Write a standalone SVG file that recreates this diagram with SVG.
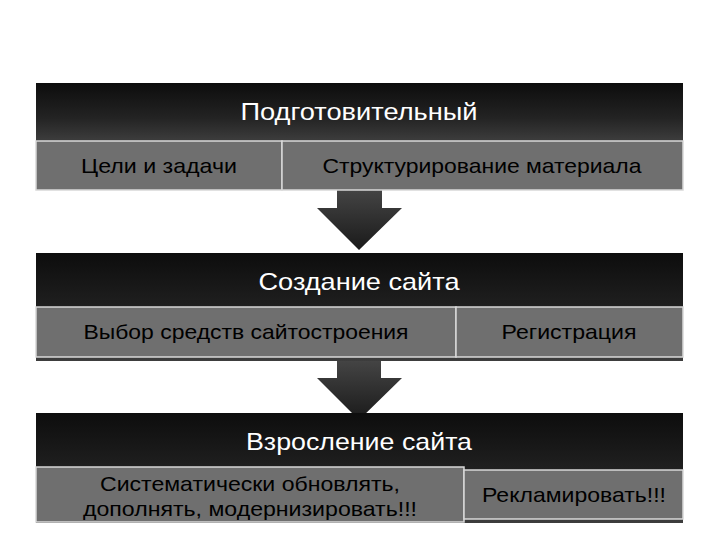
<svg xmlns="http://www.w3.org/2000/svg" width="720" height="540" viewBox="0 0 720 540">
<defs>
<linearGradient id="hd" x1="0" y1="0" x2="0" y2="1"><stop offset="0" stop-color="#0d0d0d"/><stop offset="0.6" stop-color="#232323"/><stop offset="1" stop-color="#3d3d3d"/></linearGradient>
<linearGradient id="ar" x1="0" y1="0" x2="0" y2="1"><stop offset="0" stop-color="#444"/><stop offset="1" stop-color="#1a1a1a"/></linearGradient>
</defs>
<style>
.hd{fill:url(#hd)}
.cell{fill:#6f6f6f;stroke:#d8d8d8;stroke-width:1.5}
.ht{font-family:"Liberation Sans",Arial,sans-serif;font-size:24px;fill:#fff;text-anchor:middle}
.ct{font-family:"Liberation Sans",Arial,sans-serif;font-size:21px;fill:#000;text-anchor:middle}
.arrow{fill:url(#ar)}
</style>
<rect width="720" height="540" fill="#fff"/>
<g id="connectors">
<path class="arrow" d="M337,190H382V208H402L359,250L317,208H337Z"/>
<path class="arrow" d="M337,361H381V378H402L359,420L317,378H337Z"/>
</g>
<g id="stage1">
<rect class="hd" x="36" y="83" width="647" height="58"/>
<text class="ht" x="359" y="120" textLength="237" lengthAdjust="spacingAndGlyphs">Подготовительный</text>
</g>
<g id="goals"><rect class="cell" x="36" y="141" width="246" height="49"/><text class="ct" x="159" y="173" textLength="156" lengthAdjust="spacingAndGlyphs">Цели и задачи</text></g>
<g id="structure"><rect class="cell" x="282" y="141" width="401" height="49"/><text class="ct" x="482" y="173" textLength="319" lengthAdjust="spacingAndGlyphs">Структурирование материала</text></g>
<g id="stage2">
<rect class="hd" x="36" y="253" width="647" height="108"/>
<text class="ht" x="359" y="290" textLength="201" lengthAdjust="spacingAndGlyphs">Создание сайта</text>
</g>
<g id="tools"><rect class="cell" x="36" y="307" width="420" height="50"/><text class="ct" x="246" y="339" textLength="325" lengthAdjust="spacingAndGlyphs">Выбор средств сайтостроения</text></g>
<g id="reg"><rect class="cell" x="456" y="307" width="227" height="50"/><text class="ct" x="569" y="339" textLength="135" lengthAdjust="spacingAndGlyphs">Регистрация</text></g>
<g id="stage3">
<rect class="hd" x="36" y="413" width="647" height="110"/>
<text class="ht" x="359" y="450" textLength="226" lengthAdjust="spacingAndGlyphs">Взросление сайта</text>
</g>
<g id="update"><rect class="cell" x="36" y="467" width="428" height="55"/><text class="ct" x="250" y="491" textLength="300" lengthAdjust="spacingAndGlyphs">Систематически обновлять,</text><text class="ct" x="250" y="516" textLength="334" lengthAdjust="spacingAndGlyphs">дополнять, модернизировать!!!</text></g>
<g id="ads"><rect class="cell" x="464" y="470" width="219" height="49"/><text class="ct" x="574" y="502" textLength="184" lengthAdjust="spacingAndGlyphs">Рекламировать!!!</text></g>
</svg>
